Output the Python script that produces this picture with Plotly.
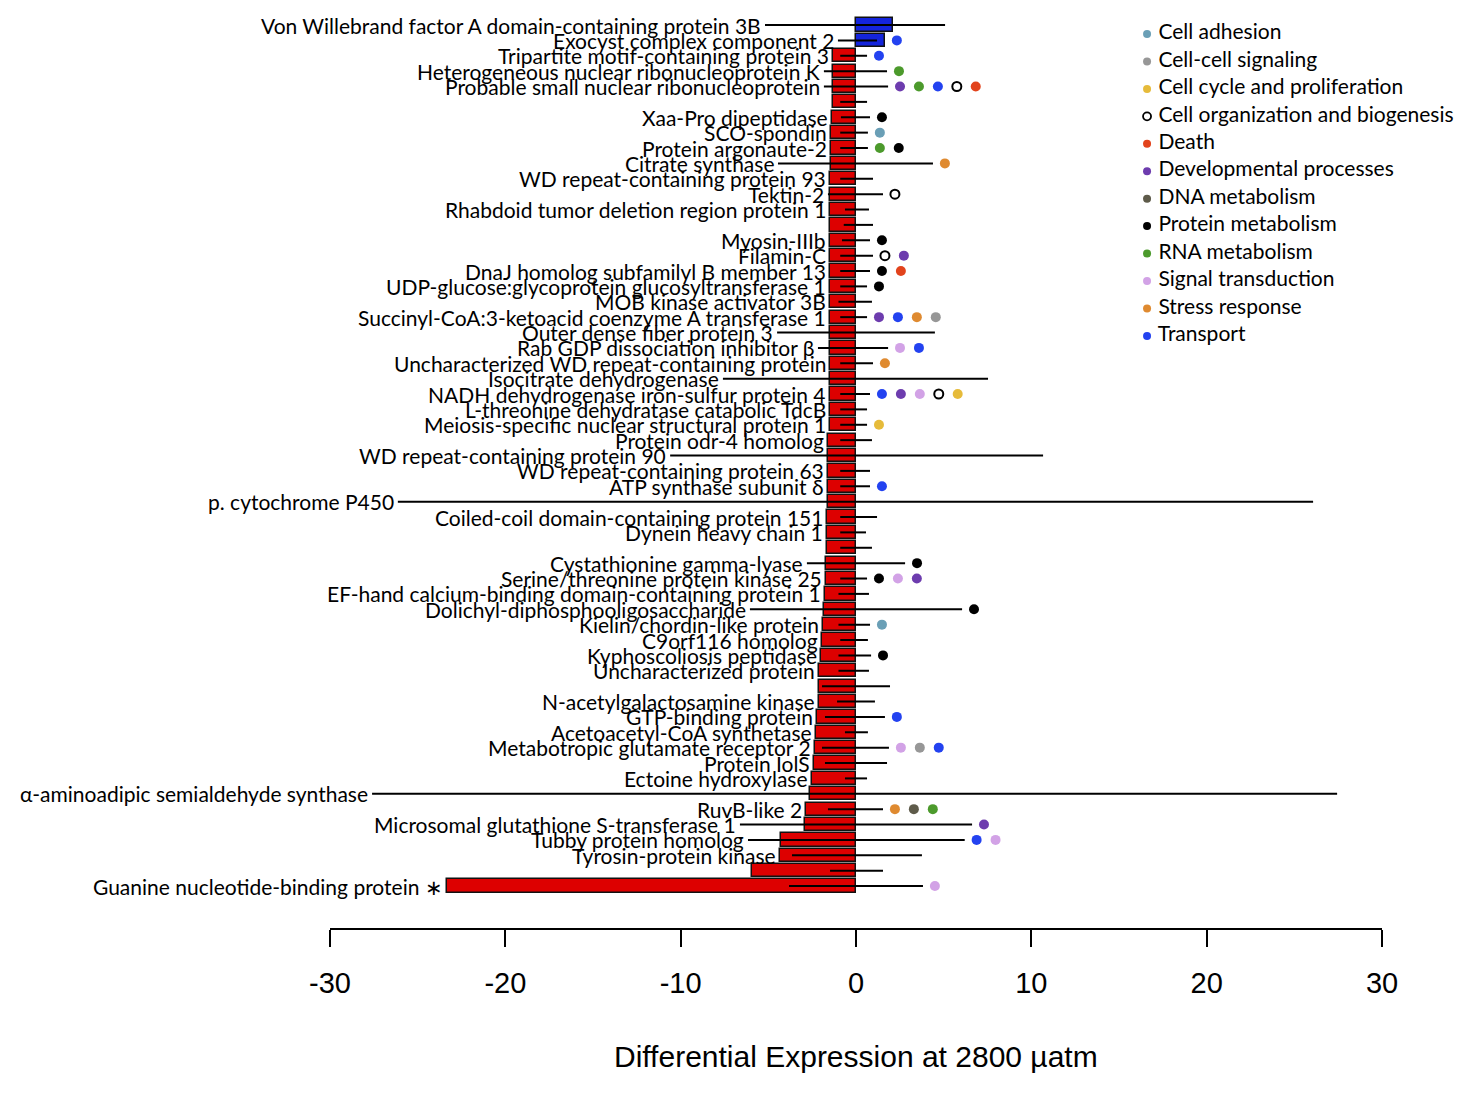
import plotly.graph_objects as go

# ---------------- data ----------------
proteins = [
    "Von Willebrand factor A domain-containing protein 3B",
    "Exocyst complex component 2",
    "Tripartite motif-containing protein 3",
    "Heterogeneous nuclear ribonucleoprotein K",
    "Probable small nuclear ribonucleoprotein",
    "",
    "Xaa-Pro dipeptidase",
    "SCO-spondin",
    "Protein argonaute-2",
    "Citrate synthase",
    "WD repeat-containing protein 93",
    "Tektin-2",
    "Rhabdoid tumor deletion region protein 1",
    "",
    "Myosin-IIIb",
    "Filamin-C",
    "DnaJ homolog subfamilyl B member 13",
    "UDP-glucose:glycoprotein glucosyltransferase 1",
    "MOB kinase activator 3B",
    "Succinyl-CoA:3-ketoacid coenzyme A transferase 1",
    "Outer dense fiber protein 3",
    "Rab GDP dissociation inhibitor β",
    "Uncharacterized WD repeat-containing protein",
    "Isocitrate dehydrogenase",
    "NADH dehydrogenase iron-sulfur protein 4",
    "L-threonine dehydratase catabolic TdcB",
    "Meiosis-specific nuclear structural protein 1",
    "Protein odr-4 homolog",
    "WD repeat-containing protein 90",
    "WD repeat-containing protein 63",
    "ATP synthase subunit δ",
    "p. cytochrome P450",
    "Coiled-coil domain-containing protein 151",
    "Dynein heavy chain 1",
    "",
    "Cystathionine gamma-lyase",
    "Serine/threonine protein kinase 25",
    "EF-hand calcium-binding domain-containing protein 1",
    "Dolichyl-diphosphooligosaccharide",
    "Kielin/chordin-like protein",
    "C9orf116 homolog",
    "Kyphoscoliosis peptidase",
    "Uncharacterized protein",
    "",
    "N-acetylgalactosamine kinase",
    "GTP-binding protein",
    "Acetoacetyl-CoA synthetase",
    "Metabotropic glutamate receptor 2",
    "Protein IolS",
    "Ectoine hydroxylase",
    "α-aminoadipic semialdehyde synthase",
    "RuvB-like 2",
    "Microsomal glutathione S-transferase 1",
    "Tubby protein homolog",
    "Tyrosin-protein kinase",
    "",
    "Guanine nucleotide-binding protein ∗",
]

expression = [
    2.11, 1.65, -1.31, -1.31, -1.31, -1.31, -1.37, -1.43, -1.43, -1.43,
    -1.48, -1.48, -1.48, -1.48, -1.48, -1.48, -1.48, -1.48, -1.48, -1.48,
    -1.48, -1.48, -1.48, -1.48, -1.48, -1.48, -1.48, -1.60, -1.60, -1.60,
    -1.60, -1.60, -1.65, -1.65, -1.65, -1.71, -1.71, -1.77, -1.83, -1.88,
    -1.94, -2.00, -2.11, -2.11, -2.11, -2.22, -2.28, -2.34, -2.40, -2.51,
    -2.62, -2.85, -2.91, -4.28, -4.34, -5.93, -23.33,
]

err_low = [
    -5.19, -1.03, -0.90, -1.83, -1.83, -0.90, -0.86, -0.90, -0.90, -4.45,
    -0.90, -1.60, -0.63, -0.70, -0.80, -0.90, -0.90, -0.90, -1.00, -0.90,
    -4.50, -2.17, -0.90, -7.59, -0.90, -0.90, -0.90, -0.90, -10.60, -0.90,
    -0.90, -26.13, -0.90, -0.90, -0.90, -2.80, -0.90, -1.00, -6.05, -1.00,
    -0.90, -1.00, -1.00, -1.94, -1.08, -1.77, -0.63, -1.94, -1.77, -0.63,
    -27.60, -1.60, -6.62, -6.16, -3.65, -1.48, -3.82,
]

err_high = [
    5.08, 1.20, 0.63, 1.77, 1.83, 0.63, 0.80, 0.68, 0.68, 4.39,
    0.97, 1.54, 0.74, 0.97, 0.80, 0.97, 0.80, 0.63, 0.91, 0.63,
    4.50, 1.83, 0.97, 7.53, 0.80, 0.63, 0.63, 0.91, 10.67, 0.80,
    0.80, 26.07, 1.20, 0.57, 0.91, 2.80, 0.63, 0.74, 6.05, 0.80,
    0.68, 0.86, 0.74, 1.94, 1.08, 1.65, 0.68, 1.88, 1.77, 0.63,
    27.44, 1.54, 6.62, 6.20, 3.76, 1.54, 3.82,
]

categories = [
    "Cell adhesion", "Cell-cell signaling", "Cell cycle and proliferation",
    "Cell organization and biogenesis", "Death", "Developmental processes",
    "DNA metabolism", "Protein metabolism", "RNA metabolism",
    "Signal transduction", "Stress response", "Transport",
]

# functional categories of each row (row index -> ordered list)
row_categories = {
    1: ["Transport"],
    2: ["Transport"],
    3: ["RNA metabolism"],
    4: ["Developmental processes", "RNA metabolism", "Transport",
        "Cell organization and biogenesis", "Death"],
    6: ["Protein metabolism"],
    7: ["Cell adhesion"],
    8: ["RNA metabolism", "Protein metabolism"],
    9: ["Stress response"],
    11: ["Cell organization and biogenesis"],
    14: ["Protein metabolism"],
    15: ["Cell organization and biogenesis", "Developmental processes"],
    16: ["Protein metabolism", "Death"],
    17: ["Protein metabolism"],
    19: ["Developmental processes", "Transport", "Stress response",
         "Cell-cell signaling"],
    21: ["Signal transduction", "Transport"],
    22: ["Stress response"],
    24: ["Transport", "Developmental processes", "Signal transduction",
         "Cell organization and biogenesis", "Cell cycle and proliferation"],
    26: ["Cell cycle and proliferation"],
    30: ["Transport"],
    35: ["Protein metabolism"],
    36: ["Protein metabolism", "Signal transduction", "Developmental processes"],
    38: ["Protein metabolism"],
    39: ["Cell adhesion"],
    41: ["Protein metabolism"],
    45: ["Transport"],
    47: ["Signal transduction", "Cell-cell signaling", "Transport"],
    51: ["Stress response", "DNA metabolism", "RNA metabolism"],
    52: ["Developmental processes"],
    53: ["Transport", "Signal transduction"],
    56: ["Signal transduction"],
}

x_ticks = [-30, -20, -10, 0, 10, 20, 30]
x_tick_labels = ["-30", "-20", "-10", "0", "10", "20", "30"]
x_title = "Differential Expression at 2800 µatm"

# ---------------- styles ----------------
cat_colors = {
    "Cell adhesion": "#6a9fb6",
    "Cell-cell signaling": "#979797",
    "Cell cycle and proliferation": "#e6bb3a",
    "Cell organization and biogenesis": "#ffffff",
    "Death": "#e2431c",
    "Developmental processes": "#6d3cae",
    "DNA metabolism": "#5e5b4a",
    "Protein metabolism": "#000000",
    "RNA metabolism": "#4c9a2c",
    "Signal transduction": "#d2a2e6",
    "Stress response": "#df8a30",
    "Transport": "#2342f0",
}
LABEL_FONT = "Lato, Carlito, Calibri, sans-serif"
AXIS_FONT = "Liberation Sans, Arial, sans-serif"
LABEL_SIZE = 21
DOT_GAP = 0.68
DOT_STEP = 1.08

n = len(proteins)
ys = [-i for i in range(n)]

fig = go.Figure()

# bars
fig.add_trace(go.Bar(
    x=expression, y=ys, orientation="h", width=0.86,
    marker=dict(color=["#1424dc" if v > 0 else "#dd0000" for v in expression],
                line=dict(color="#111111", width=1.5)),
    showlegend=False, hoverinfo="skip",
))

# error / leader lines
ex, ey = [], []
for i in range(n):
    ex += [err_low[i], err_high[i], None]
    ey += [ys[i], ys[i], None]
fig.add_trace(go.Scatter(x=ex, y=ey, mode="lines",
                         line=dict(color="black", width=2),
                         showlegend=False, hoverinfo="skip", cliponaxis=False))

# category dots
for cat in categories:
    dx, dy = [], []
    for row, cats in row_categories.items():
        if cat in cats:
            k = cats.index(cat)
            base = max(err_high[row], expression[row])
            dx.append(base + DOT_GAP + DOT_STEP * k)
            dy.append(ys[row])
    is_open = cat == "Cell organization and biogenesis"
    fig.add_trace(go.Scatter(
        x=dx, y=dy, mode="markers",
        marker=dict(size=10 if not is_open else 9, color=cat_colors[cat],
                    line=dict(color="black", width=2 if is_open else 0)),
        showlegend=False, hoverinfo="skip", cliponaxis=False,
    ))

# legend (manual, to match the compact original)
LEG_X = 16.6
LEG_Y0 = -0.585
LEG_STEP = 1.785
for k, cat in enumerate(categories):
    is_open = cat == "Cell organization and biogenesis"
    fig.add_trace(go.Scatter(
        x=[LEG_X], y=[LEG_Y0 - LEG_STEP * k], mode="markers+text",
        text=[" " + cat], textposition="middle right",
        textfont=dict(family=LABEL_FONT, size=LABEL_SIZE, color="black"),
        marker=dict(size=8, color=cat_colors[cat],
                    line=dict(color="black", width=1.8 if is_open else 0)),
        showlegend=False, hoverinfo="skip", cliponaxis=False,
    ))

# protein labels
annotations = []
for i, name in enumerate(proteins):
    if not name:
        continue
    annotations.append(dict(
        x=min(expression[i], err_low[i]), y=ys[i], xref="x", yref="y",
        text=name, showarrow=False, xanchor="right", yanchor="middle",
        xshift=-2, font=dict(family=LABEL_FONT, size=LABEL_SIZE, color="black"),
    ))

annotations.append(dict(
    x=0, y=-0.1405, xref="x", yref="paper", text=x_title, showarrow=False,
    xanchor="center", yanchor="middle",
    font=dict(family=AXIS_FONT, size=30, color="black"),
))

fig.update_layout(
    width=1475, height=1114,
    margin=dict(l=330, r=93, t=10, b=186),
    paper_bgcolor="white", plot_bgcolor="white",
    bargap=0, showlegend=False,
    annotations=annotations,
    xaxis=dict(range=[-30, 30], tickvals=x_ticks, ticktext=x_tick_labels,
               ticks="outside",
               ticklen=17, tickwidth=2, tickcolor="black",
               showline=True, linewidth=2, linecolor="black",
               showgrid=False, zeroline=False,
               tickfont=dict(family=AXIS_FONT, size=29, color="black"),
               ticklabelstandoff=11),
    yaxis=dict(range=[-58.73, 0.976], visible=False, showgrid=False,
               zeroline=False),
)

fig.write_html("out.html")
